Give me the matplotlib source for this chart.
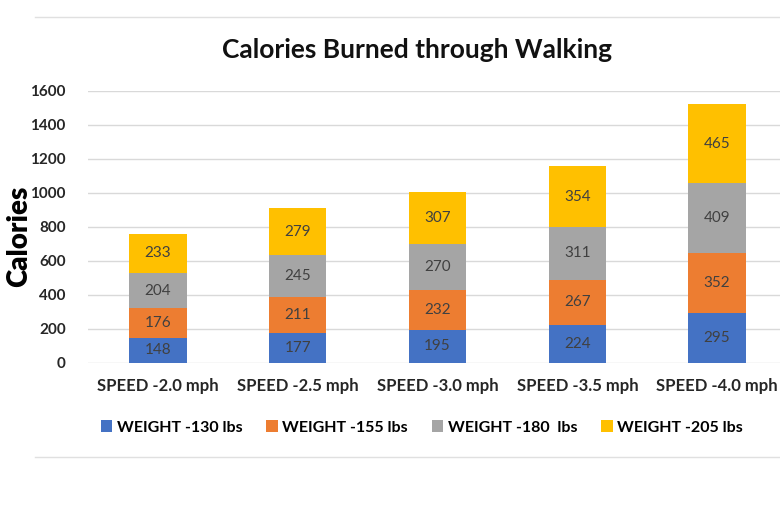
import matplotlib.pyplot as plt
import numpy as np

speeds = ["SPEED -2.0 mph", "SPEED -2.5 mph", "SPEED -3.0 mph", "SPEED -3.5 mph", "SPEED -4.0 mph"]
w130 = [148, 177, 195, 224, 295]
w155 = [176, 211, 232, 267, 352]
w180 = [204, 245, 270, 311, 409]
w205 = [233, 279, 307, 354, 465]
series = [("WEIGHT -130 lbs", w130, "#4472C4"),
          ("WEIGHT -155 lbs", w155, "#ED7D31"),
          ("WEIGHT -180  lbs", w180, "#A5A5A5"),
          ("WEIGHT -205 lbs", w205, "#FFC000")]

plt.rcParams['font.family'] = ['Lato', 'DejaVu Sans']

fig = plt.figure(figsize=(7.8, 5.2), dpi=100)
ax = fig.add_axes([0.113, 0.302, 0.887, 0.523])

x = np.arange(len(speeds))
bottom = np.zeros(len(speeds))
for name, vals, col in series:
    bars = ax.bar(x, vals, 0.41, bottom=bottom, color=col, label=name, zorder=3)
    for b, v in zip(bars, vals):
        ax.text(b.get_x() + b.get_width() / 2, b.get_y() + b.get_height() / 2, str(v),
                ha="center", va="center", fontsize=11, color="#404040", zorder=4)
    bottom += np.array(vals)

ax.set_xlim(-0.5, 4.45)
ax.set_ylim(0, 1600)
ax.set_yticks(range(0, 1601, 200))
ax.grid(axis="y", color="#D9D9D9", linewidth=1, zorder=0)
for s in ax.spines.values():
    s.set_visible(False)
ax.tick_params(axis="both", length=0)
ax.tick_params(axis="y", pad=16)
ax.tick_params(axis="x", pad=11)
ax.set_xticks(x)
ax.set_xticklabels(speeds, fontsize=12, fontweight="bold", color="#262626")
for t in ax.get_yticklabels():
    t.set_fontsize(11)
    t.set_fontweight("bold")
    t.set_color("#262626")

fig.text(0.535, 0.903, "Calories Burned through Walking", ha="center", va="center",
         fontsize=19, fontweight="bold", color="#111111")
fig.text(0.024, 0.545, "Calories", rotation=90, ha="center", va="center",
         fontsize=20, fontweight="heavy", color="#000000")

fig.legend(loc="center", bbox_to_anchor=(0.541, 0.178), ncol=4, frameon=False,
           handlelength=0.7, handleheight=0.7, handletextpad=0.3,
           columnspacing=1.5, prop={"weight": "bold", "size": 11.5})

fig.add_artist(plt.Line2D([0.045, 1.0], [0.967, 0.967], color="#E0E0E0", linewidth=1))
fig.add_artist(plt.Line2D([0.045, 1.0], [0.121, 0.121], color="#E0E0E0", linewidth=1))

plt.savefig("out.png")
